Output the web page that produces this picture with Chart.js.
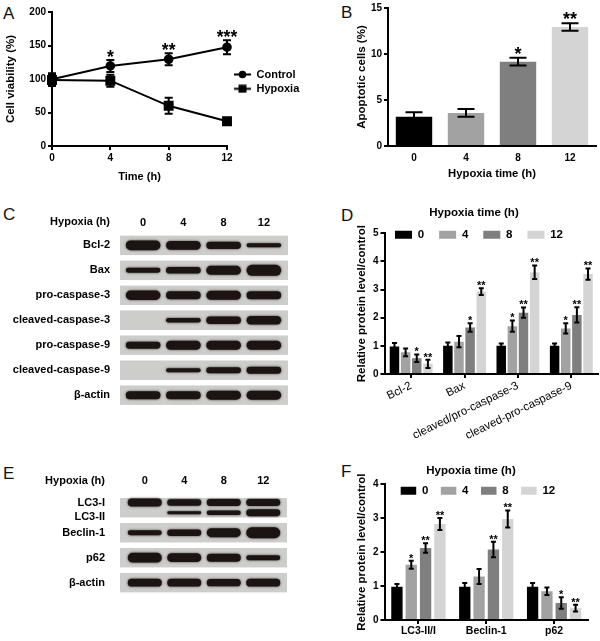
<!DOCTYPE html>
<html>
<head>
<meta charset="utf-8">
<title>Hypoxia panels</title>
<script src="https://cdn.jsdelivr.net/npm/chart.js@4/dist/chart.umd.min.js"></script>
<style>
    html, body { margin: 0; padding: 0; background: #fff; }
    #page { position: relative; width: 600px; height: 641px; overflow: hidden; }
    #page canvas { position: absolute; filter: blur(0.35px); }
    .letter { position: absolute; font: 17px "Liberation Sans", sans-serif; color: #111; line-height: 1; }
</style>
</head>
<body>
<div id="page">
    <div class="letter" style="left:3px;top:5px">A</div>
    <div class="letter" style="left:341px;top:4px">B</div>
    <div class="letter" style="left:3px;top:206px">C</div>
    <div class="letter" style="left:341px;top:207px">D</div>
    <div class="letter" style="left:3px;top:465px">E</div>
    <div class="letter" style="left:341px;top:463px">F</div>
</div>
<script>
// Panel A, cell viability
const timePoints = [0, 4, 8, 12]
const controlViability = [99.5, 119.5, 129.5, 147.5]
const controlViabilityErr = [9, 9, 9, 10.5]
const hypoxiaViability = [98.5, 97.5, 60, 37]
const hypoxiaViabilityErr = [9, 9, 12, 3]
const viabilityStars = ["", "*", "**", "***"]

// Panel B, apoptotic cells
const hypoxiaHours = ["0", "4", "8", "12"]
const apoptoticCells = [3.17, 3.6, 9.17, 12.93]
const apoptoticCellsErr = [0.5, 0.42, 0.42, 0.4]
const apoptoticStars = ["", "", "*", "**"]

// Panel C, band thickness on the blot, per lane
const blotRowsC = ["Hypoxia (h)", "Bcl-2", "Bax", "pro-caspase-3", "cleaved-caspase-3", "pro-caspase-9", "cleaved-caspase-9", "β-actin"]
const bandBcl2 = [10, 9, 7.5, 4]
const bandBax = [5, 6.5, 9, 11]
const bandProCasp3 = [9.5, 8, 9, 8]
const bandCleavedCasp3 = [null, 4.5, 7.5, 8.5]
const bandProCasp9 = [7, 9, 9, 9]
const bandCleavedCasp9 = [null, 4, 6, 7]
const bandActinC = [8, 8, 9, 9]

// Panel D, relative protein level
const proteinsD = ["Bcl-2", "Bax", "cleaved/pro-caspase-3", "cleaved-pro-caspase-9"]
const levelD0 = [0.98, 1.0, 1.0, 1.0]
const levelD4 = [0.77, 1.15, 1.7, 1.62]
const levelD8 = [0.56, 1.65, 2.18, 2.1]
const levelD12 = [0.36, 2.93, 3.62, 3.55]
const errD0 = [0.12, 0.12, 0.08, 0.08]
const errD4 = [0.14, 0.2, 0.2, 0.18]
const errD8 = [0.13, 0.15, 0.18, 0.27]
const errD12 = [0.15, 0.12, 0.24, 0.2]
const starsD4 = ["", "", "*", "*"]
const starsD8 = ["*", "*", "**", "**"]
const starsD12 = ["**", "**", "**", "**"]

// Panel E, band thickness on the blot, per lane
const blotRowsE = ["Hypoxia (h)", "LC3-I", "LC3-II", "Beclin-1", "p62", "β-actin"]
const bandLC3I = [8, 6.5, 7, 7]
const bandLC3II = [null, 3, 4.5, 7]
const bandBeclin = [5, 6.5, 9, 11]
const bandP62 = [10, 9, 8, 5]
const bandActinE = [8, 8, 7.5, 8]

// Panel F, relative protein level
const proteinsF = ["LC3-II/I", "Beclin-1", "p62"]
const levelF0 = [0.98, 0.98, 0.98]
const levelF4 = [1.63, 1.28, 0.85]
const levelF8 = [2.12, 2.08, 0.5]
const levelF12 = [2.83, 2.98, 0.35]
const errF0 = [0.08, 0.11, 0.11]
const errF4 = [0.12, 0.22, 0.11]
const errF8 = [0.14, 0.23, 0.17]
const errF12 = [0.18, 0.25, 0.1]
const starsF4 = ["*", "", ""]
const starsF8 = ["**", "**", "*"]
const starsF12 = ["**", "**", "**"]

const FAMILY = '"Liberation Sans", Arial, sans-serif'
const greys = ["#000000", "#a2a2a2", "#7f7f7f", "#d4d4d4"]
const bold = (size) => ({ family: FAMILY, size: size, weight: "bold" })

Chart.defaults.font.family = FAMILY
Chart.defaults.color = "#000"
Chart.defaults.animation = false
Chart.defaults.responsive = false

//Error bars and significance stars, read from dataset.errs and dataset.stars
const errorStars = {
    id: "errorStars",
    afterDatasetsDraw(chart, args, opts) {
        const ctx = chart.ctx
        const yScale = chart.scales.y
        chart.data.datasets.forEach((ds, d) => {
            if (!ds.errs) return
            chart.getDatasetMeta(d).data.forEach((el, i) => {
                const hi = yScale.getPixelForValue(ds.data[i] + ds.errs[i])
                const lo = yScale.getPixelForValue(ds.data[i] - ds.errs[i])
                ctx.save()
                ctx.strokeStyle = "#000"
                ctx.lineWidth = opts.lineWidth
                ctx.beginPath()
                ctx.moveTo(el.x, hi)
                ctx.lineTo(el.x, lo)
                ctx.moveTo(el.x - opts.cap, hi)
                ctx.lineTo(el.x + opts.cap, hi)
                ctx.moveTo(el.x - opts.cap, lo)
                ctx.lineTo(el.x + opts.cap, lo)
                ctx.stroke()
                if (ds.stars && ds.stars[i]) {
                    ctx.fillStyle = "#000"
                    ctx.font = "bold " + opts.starSize + "px " + FAMILY
                    ctx.textAlign = "center"
                    ctx.textBaseline = "alphabetic"
                    ctx.fillText(ds.stars[i], el.x, hi - opts.starGap + opts.starSize * 0.58)
                }
                ctx.restore()
            })
        })
    }
}

//The legend sits inside the plot in the reference, so move it after layout
const placeLegend = {
    id: "placeLegend",
    beforeDraw(chart, args, opts) {
        const legend = chart.legend
        const pad = legend.options.labels.padding
        legend.left = opts.x - pad
        legend.top = opts.y - pad
        legend.right = chart.width
        legend.bottom = chart.height
    }
}

//Grey membrane strips behind the bands, and a soft edge on the bands themselves
const blotStrips = {
    id: "blotStrips",
    beforeDatasetsDraw(chart, args, opts) {
        const ctx = chart.ctx
        const y = chart.scales.y
        const area = chart.chartArea
        ctx.fillStyle = opts.color
        for (const c of opts.centers) {
            const top = y.getPixelForValue(c - opts.half)
            const bottom = y.getPixelForValue(c + opts.half)
            ctx.fillRect(area.left - opts.overLeft, top, area.right - area.left + opts.overLeft + opts.overRight, bottom - top)
        }
        ctx.shadowColor = "#3a3432"
        ctx.shadowBlur = 2.5
    },
    afterDatasetsDraw(chart) {
        chart.ctx.shadowBlur = 0
        chart.ctx.shadowColor = "transparent"
    }
}

function makeCanvas(left, top, width, height) {
    const canvas = document.createElement("canvas")
    canvas.width = width
    canvas.height = height
    canvas.style.left = left + "px"
    canvas.style.top = top + "px"
    document.getElementById("page").appendChild(canvas)
    return canvas.getContext("2d")
}

function yAxis(max, step, title, width, titlePad) {
    return {
        min: 0,
        max: max,
        afterFit: (s) => { s.width = width },
        border: { display: true, color: "#000", width: 2 },
        grid: { drawOnChartArea: false, color: "#000", lineWidth: 2, tickLength: 4 },
        ticks: { stepSize: step, font: bold(10), padding: 2, color: "#000" },
        title: { display: true, text: title, font: bold(11.5), color: "#000", padding: { top: titlePad, bottom: 0 } }
    }
}

function barDatasets(values, errs, stars) {
    return hypoxiaHours.map((hour, i) => ({
        label: hour,
        data: values[i],
        errs: errs[i],
        stars: stars[i],
        backgroundColor: greys[i]
    }))
}

function groupedBars(ctx, cfg) {
    return new Chart(ctx, {
        type: "bar",
        data: { labels: cfg.labels, datasets: barDatasets(cfg.values, cfg.errs, cfg.stars) },
        options: {
            layout: { autoPadding: false, padding: { right: cfg.right } },
            categoryPercentage: cfg.groupShare,
            barPercentage: cfg.barShare,
            scales: {
                x: {
                    afterFit: (s) => { s.height = cfg.axisHeight },
                    border: { display: true, color: "#000", width: 2 },
                    grid: { offset: false, drawOnChartArea: false, color: "#000", lineWidth: 2, tickLength: 4 },
                    ticks: { font: cfg.tickFont, color: "#000", minRotation: cfg.rotation, maxRotation: cfg.rotation, autoSkip: false, padding: 1 }
                },
                y: yAxis(cfg.max, 1, "Relative protein level/control", cfg.axisWidth, cfg.titlePad)
            },
            plugins: {
                title: { display: true, text: "Hypoxia time (h)", font: bold(11.5), color: "#000", padding: { top: cfg.titleTop, bottom: cfg.titleBottom } },
                legend: {
                    position: "bottom",
                    align: "start",
                    maxHeight: 1,
                    labels: { boxWidth: cfg.boxWidth, boxHeight: 8, padding: cfg.legendPad, font: bold(11.5), color: "#000" }
                },
                placeLegend: cfg.legendAt,
                errorStars: { cap: 2.5, lineWidth: 2, starSize: 11, starGap: 5.5 }
            }
        },
        plugins: [errorStars, placeLegend]
    })
}

function blot(ctx, cfg) {
    const datasets = []
    cfg.bands.forEach((band) => {
        datasets.push({
            label: band.name,
            data: band.thick.map((t) => t === null ? null : [band.center - t / (2 * cfg.pitch), band.center + t / (2 * cfg.pitch)])
        })
    })
    return new Chart(ctx, {
        type: "bar",
        data: { labels: hypoxiaHours, datasets: datasets },
        options: {
            layout: { autoPadding: false, padding: { right: cfg.right, bottom: cfg.bottom } },
            categoryPercentage: 1,
            barPercentage: 0.86,
            grouped: false,
            elements: { bar: { backgroundColor: "#1b1412", borderRadius: 20, borderSkipped: false, inflateAmount: 0 } },
            scales: {
                x: {
                    position: "top",
                    afterFit: (s) => { s.height = cfg.top },
                    border: { display: false },
                    grid: { display: false },
                    ticks: { font: bold(11), color: "#000", padding: cfg.headPad, maxRotation: 0 }
                },
                y: {
                    type: "linear",
                    reverse: true,
                    min: cfg.min,
                    max: cfg.max,
                    afterFit: (s) => { s.width = cfg.left },
                    afterBuildTicks: (s) => { s.ticks = cfg.rowAt.map((v) => ({ value: v })) },
                    border: { display: false },
                    grid: { display: false },
                    ticks: {
                        font: bold(11),
                        color: "#000",
                        padding: cfg.labelPad,
                        callback: (v) => cfg.rows[cfg.rowAt.indexOf(v)]
                    }
                }
            },
            plugins: {
                legend: { display: false },
                tooltip: { enabled: false },
                blotStrips: { color: "#cdcdcb", centers: cfg.strips, half: 0.39, overLeft: cfg.overLeft, overRight: cfg.overRight }
            }
        },
        plugins: [blotStrips]
    })
}

//Legend glyph with the line through the marker, as in the reference
function lineGlyph(square) {
    const c = document.createElement("canvas")
    c.width = 17
    c.height = 9
    const g = c.getContext("2d")
    g.fillStyle = "#000"
    g.fillRect(0, 3.5, 17, 2)
    if (square) g.fillRect(4.5, 0.5, 8, 8)
    else { g.beginPath(); g.arc(8.5, 4.5, 3.8, 0, Math.PI * 2); g.fill() }
    return c
}
const glyphs = [lineGlyph(false), lineGlyph(true)]

// A
new Chart(makeCanvas(0, 0, 300, 190), {
    type: "line",
    data: {
        datasets: [
            {
                label: "Control",
                data: controlViability,
                errs: controlViabilityErr,
                stars: viabilityStars,
                borderColor: "#000",
                backgroundColor: "#000",
                borderWidth: 2,
                pointStyle: "circle",
                pointRadius: 3.8,
                clip: false
            },
            {
                label: "Hypoxia",
                data: hypoxiaViability,
                errs: hypoxiaViabilityErr,
                borderColor: "#000",
                backgroundColor: "#000",
                borderWidth: 2,
                pointStyle: "rect",
                pointRadius: 5.6,
                clip: false
            }
        ],
        labels: timePoints
    },
    options: {
        layout: { autoPadding: false, padding: { top: 12, right: 72 } },
        scales: {
            x: {
                type: "linear",
                min: 0,
                max: 12,
                afterFit: (s) => { s.height = 44 },
                border: { display: true, color: "#000", width: 2 },
                grid: { drawOnChartArea: false, color: "#000", lineWidth: 2, tickLength: 4 },
                ticks: { stepSize: 4, font: bold(10), color: "#000", padding: 2 },
                title: { display: true, text: "Time (h)", font: bold(11), color: "#000", padding: { top: 0, bottom: 6 } }
            },
            y: yAxis(200, 50, "Cell viability (%)", 52, 4)
        },
        plugins: {
            legend: {
                position: "right",
                align: "start",
                maxWidth: 1,
                labels: {
                    usePointStyle: true,
                    pointStyleWidth: 17,
                    boxHeight: 11,
                    padding: 3.3,
                    font: bold(11),
                    color: "#000",
                    generateLabels: (chart) => Chart.defaults.plugins.legend.labels.generateLabels(chart).map((item, i) => ({ ...item, pointStyle: glyphs[i] }))
                }
            },
            placeLegend: { x: 234, y: 69 },
            errorStars: { cap: 4, lineWidth: 2, starSize: 17.5, starGap: 7.5 }
        }
    },
    plugins: [errorStars, placeLegend]
})

// B
new Chart(makeCanvas(300, 0, 300, 190), {
    type: "bar",
    data: {
        labels: hypoxiaHours,
        datasets: [{
            label: "Apoptotic cells",
            data: apoptoticCells,
            errs: apoptoticCellsErr,
            stars: apoptoticStars,
            backgroundColor: greys
        }]
    },
    options: {
        layout: { autoPadding: false, padding: { top: 8, right: 4 } },
        categoryPercentage: 1,
        barPercentage: 0.7,
        scales: {
            x: {
                afterFit: (s) => { s.height = 44 },
                border: { display: true, color: "#000", width: 2 },
                grid: { offset: false, drawOnChartArea: false, color: "#000", lineWidth: 2, tickLength: 0 },
                ticks: { font: bold(10), color: "#000", padding: 6 },
                title: { display: true, text: "Hypoxia time (h)", font: bold(11.3), color: "#000", padding: { top: 0, bottom: 9 } }
            },
            y: yAxis(15, 5, "Apoptotic cells (%)", 88, 55)
        },
        plugins: {
            legend: { display: false },
            errorStars: { cap: 8.5, lineWidth: 2, starSize: 18, starGap: 8.5 }
        }
    },
    plugins: [errorStars]
})

// C
blot(makeCanvas(0, 200, 300, 220), {
    rows: blotRowsC,
    rowAt: [-0.93, 0, 1, 2, 3, 4, 5, 6],
    strips: [0, 1, 2, 3, 4, 5, 6],
    bands: [
        { name: "Bcl-2", center: 0, thick: bandBcl2 },
        { name: "Bax", center: 1, thick: bandBax },
        { name: "pro-caspase-3", center: 2, thick: bandProCasp3 },
        { name: "cleaved-caspase-3", center: 3, thick: bandCleavedCasp3 },
        { name: "pro-caspase-9", center: 4, thick: bandProCasp9 },
        { name: "cleaved-caspase-9", center: 5, thick: bandCleavedCasp9 },
        { name: "β-actin", center: 6, thick: bandActinC }
    ],
    pitch: 25.2,
    min: -0.655,
    max: 6.53,
    left: 123,
    top: 29,
    right: 16,
    bottom: 8.5,
    headPad: -8.5,
    labelPad: 5,
    overLeft: 3,
    overRight: 4
})

// D
groupedBars(makeCanvas(350, 200, 250, 241), {
    labels: proteinsD,
    values: [levelD0, levelD4, levelD8, levelD12],
    errs: [errD0, errD4, errD8, errD12],
    stars: [["", "", "", ""], starsD4, starsD8, starsD12],
    max: 5,
    right: 2,
    axisWidth: 34.5,
    axisHeight: 66,
    titlePad: 5,
    titleTop: 6,
    titleBottom: 13.5,
    groupShare: 0.835,
    barShare: 0.85,
    tickFont: { family: FAMILY, size: 11.5 },
    rotation: 26,
    boxWidth: 17,
    legendPad: 15,
    legendAt: { x: 45, y: 29 }
})

// E
blot(makeCanvas(0, 450, 300, 165), {
    rows: blotRowsE,
    rowAt: [-1.08, -0.2, 0.36, 1, 2, 3],
    strips: [0, 1, 2, 3],
    bands: [
        { name: "LC3-I", center: -0.21, thick: bandLC3I },
        { name: "LC3-II", center: 0.2, thick: bandLC3II },
        { name: "Beclin-1", center: 1, thick: bandBeclin },
        { name: "p62", center: 2, thick: bandP62 },
        { name: "β-actin", center: 3, thick: bandActinE }
    ],
    pitch: 25.33,
    min: -0.71,
    max: 3.55,
    left: 125,
    top: 40,
    right: 17,
    bottom: 7,
    headPad: -5.5,
    labelPad: 12,
    overLeft: 5,
    overRight: 4
})

// F
groupedBars(makeCanvas(354, 450, 246, 191), {
    labels: proteinsF,
    values: [levelF0, levelF4, levelF8, levelF12],
    errs: [errF0, errF4, errF8, errF12],
    stars: [["", "", ""], starsF4, starsF8, starsF12],
    max: 4,
    right: 12,
    axisWidth: 30.5,
    axisHeight: 20,
    titlePad: 1,
    titleTop: 14,
    titleBottom: 6.5,
    groupShare: 0.845,
    barShare: 0.79,
    tickFont: bold(10.5),
    rotation: 0,
    boxWidth: 15.5,
    legendPad: 12.5,
    legendAt: { x: 46.7, y: 35 }
})
</script>
</body>
</html>
